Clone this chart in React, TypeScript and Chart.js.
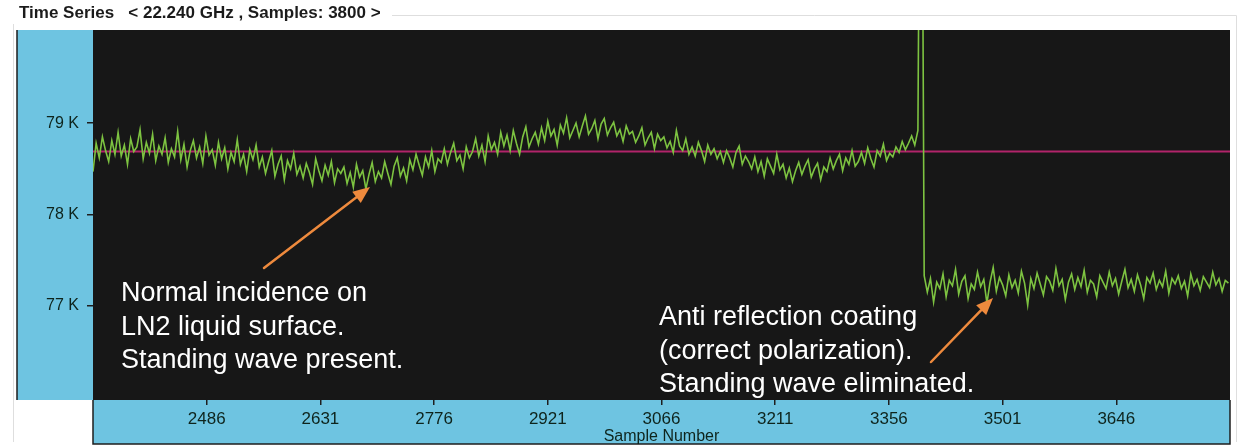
import React, { useEffect, useRef } from "react";
import { Chart, registerables } from "chart.js";

Chart.register(...registerables);

// ---- data ----
const chartTitle = "Time Series   < 22.240 GHz , Samples: 3800 >";
const xAxisTitle = "Sample Number";
const xMin = 2341;
const xMax = 3791;
const sampleStart = 2341;
const sampleStep = 4;
const xTickValues = [2486, 2631, 2776, 2921, 3066, 3211, 3356, 3501, 3646];
const yTickValues = [77, 78, 79];
const yMin = 75.97;
const yMax = 80.02;
const referenceLevel = 78.69;

// brightness temperature (K), one reading every sampleStep samples
const brightnessK = [
  78.47, 78.78, 78.62, 78.85, 78.7, 78.58, 78.81, 78.66, 78.9, 78.64, 78.76, 78.55, 78.83, 78.69, 78.74, 78.93, 78.61, 78.79, 78.67, 78.88, 78.59, 78.75,
  78.66, 78.84, 78.57, 78.72, 78.63, 78.91, 78.6, 78.77, 78.52, 78.7, 78.81, 78.62, 78.74, 78.56, 78.86, 78.65, 78.71, 78.54, 78.79,
  78.61, 78.73, 78.5, 78.68, 78.58, 78.82, 78.55, 78.66, 78.47, 78.71, 78.6, 78.76, 78.52,
  78.63, 78.45, 78.58, 78.7, 78.42, 78.55, 78.64, 78.38, 78.59, 78.5, 78.67, 78.44, 78.53,
  78.4, 78.56, 78.46, 78.33, 78.61, 78.48, 78.37, 78.54, 78.43, 78.58, 78.35, 78.5, 78.45,
  78.52, 78.34, 78.46, 78.3, 78.55, 78.41, 78.48, 78.28, 78.44, 78.57, 78.36, 78.47,
  78.4, 78.58, 78.45, 78.33, 78.53, 78.62, 78.42, 78.51, 78.37, 78.6,
  78.49, 78.66, 78.54, 78.43, 78.63, 78.52, 78.7, 78.47, 78.61,
  78.57, 78.72, 78.55, 78.68, 78.78, 78.59, 78.65, 78.5, 78.74, 78.62,
  78.69, 78.83, 78.64, 78.76, 78.58, 78.86, 78.71, 78.79, 78.66, 78.9,
  78.75, 78.87, 78.7, 78.92, 78.78, 78.66, 78.85, 78.96, 78.74, 78.83, 78.9, 78.77,
  78.95, 78.81, 79.02, 78.86, 78.93, 78.76, 78.98, 78.89, 79.06, 78.84, 78.92, 79.0, 78.85,
  78.97, 79.08, 78.88, 78.94, 79.03, 78.83, 78.99, 79.05, 78.87, 78.95,
  79.01, 78.86, 78.93, 78.8, 78.97, 78.88,
  78.91, 78.79, 78.86, 78.95, 78.76, 78.84, 78.9, 78.72, 78.88, 78.81,
  78.85, 78.73, 78.8, 78.68, 78.92, 78.75, 78.7, 78.83, 78.66,
  78.74, 78.64, 78.79, 78.7, 78.58, 78.76, 78.66, 78.72, 78.61, 78.69,
  78.57, 78.7, 78.62, 78.52, 78.68, 78.75, 78.55, 78.64, 78.58,
  78.5, 78.63, 78.47, 78.58, 78.42, 78.61, 78.53, 78.45, 78.66, 78.49,
  78.55, 78.4, 78.51, 78.36, 78.48, 78.57,
  78.44, 78.53, 78.6, 78.41, 78.5, 78.56, 78.38, 78.52, 78.47, 78.62,
  78.5, 78.59, 78.66, 78.48, 78.62, 78.55, 78.7, 78.53, 78.58,
  78.68, 78.56, 78.73, 78.61, 78.52, 78.7, 78.64, 78.77, 78.59, 78.67,
  78.63, 78.74, 78.68, 78.8, 78.71, 78.78, 78.86, 78.76, 78.92,
  84.5,
  77.33,
  77.15, 77.3, 77.04, 77.26, 77.19, 77.35, 77.1, 77.28, 77.22, 77.4,
  77.13, 77.27, 77.33, 77.08, 77.24, 77.18, 77.37, 77.21, 77.29, 77.03,
  77.26, 77.42, 77.16, 77.31, 77.23, 77.11, 77.34, 77.2, 77.28, 77.14,
  77.38, 77.25, 77.01, 77.3, 77.19, 77.36, 77.24, 77.12, 77.32, 77.27,
  77.17, 77.41, 77.22, 77.29, 77.07, 77.26, 77.35, 77.18, 77.31, 77.21,
  77.39, 77.15, 77.28, 77.24, 77.1, 77.33, 77.26, 77.19, 77.37, 77.22,
  77.3, 77.13, 77.27, 77.4, 77.2, 77.29, 77.16, 77.34, 77.23, 77.08,
  77.31, 77.25, 77.36, 77.18, 77.28, 77.21, 77.38, 77.14, 77.3, 77.24,
  77.33, 77.19, 77.27, 77.11, 77.35, 77.22, 77.29, 77.17, 77.32, 77.26,
  77.2, 77.37, 77.23, 77.3, 77.16, 77.28, 77.25,
];

const noteLeft = ["Normal incidence on", "LN2 liquid surface.", "Standing wave present."];
const noteRight = ["Anti reflection coating", "(correct polarization).", "Standing wave eliminated."];

// ---- styles ----
const FONT = "'Liberation Sans', Arial, sans-serif";
const BLUE = "#6ec4e1";
const PLOT_BG = "#171717";
const GREEN = "#7dc341";
const MAGENTA = "#b1246a";
const ORANGE = "#ee8a3d";
const TEXT_DARK = "#0e241c";

function drawArrow(ctx: CanvasRenderingContext2D, x1: number, y1: number, x2: number, y2: number) {
  const ang = Math.atan2(y2 - y1, x2 - x1);
  const head = 17;
  const hw = 7;
  const bx = x2 - head * Math.cos(ang);
  const by = y2 - head * Math.sin(ang);
  ctx.beginPath();
  ctx.moveTo(x1, y1);
  ctx.lineTo(bx, by);
  ctx.stroke();
  ctx.beginPath();
  ctx.moveTo(x2, y2);
  ctx.lineTo(bx + hw * Math.sin(ang), by - hw * Math.cos(ang));
  ctx.lineTo(bx - hw * Math.sin(ang), by + hw * Math.cos(ang));
  ctx.closePath();
  ctx.fill();
}

const panelPlugin = {
  id: "panels",
  beforeDraw(chart: any) {
    const { ctx, chartArea: a, width, height } = chart;
    ctx.save();
    ctx.fillStyle = "#ffffff";
    ctx.fillRect(0, 0, width, height);
    // faint frame
    ctx.strokeStyle = "#dedede";
    ctx.lineWidth = 1;
    ctx.beginPath();
    ctx.moveTo(392, 15.5);
    ctx.lineTo(1236.5, 15.5);
    ctx.lineTo(1236.5, 442);
    ctx.moveTo(13.5, 24);
    ctx.lineTo(13.5, 442);
    ctx.stroke();
    // left blue panel
    ctx.fillStyle = BLUE;
    ctx.fillRect(17, a.top, a.left - 17, a.bottom - a.top);
    // bottom blue band
    ctx.fillRect(a.left, a.bottom, a.right - a.left, 44);
    ctx.strokeStyle = "#1e1e1e";
    ctx.lineWidth = 1.5;
    ctx.beginPath();
    ctx.moveTo(17, a.top);
    ctx.lineTo(17, a.bottom);
    ctx.moveTo(a.left, a.bottom);
    ctx.lineTo(a.left, a.bottom + 44);
    ctx.lineTo(a.right, a.bottom + 44);
    ctx.lineTo(a.right, a.bottom);
    ctx.stroke();
    // plot background
    ctx.fillStyle = PLOT_BG;
    ctx.fillRect(a.left, a.top, a.right - a.left, a.bottom - a.top);
    // title
    ctx.fillStyle = "#1b1b1b";
    ctx.font = `bold 17px ${FONT}`;
    ctx.textBaseline = "middle";
    ctx.textAlign = "left";
    ctx.fillText(chartTitle, 19, 13);
    ctx.restore();
  },
  afterDraw(chart: any) {
    const { ctx } = chart;
    ctx.save();
    ctx.fillStyle = "#ffffff";
    ctx.font = `27px ${FONT}`;
    ctx.textBaseline = "middle";
    ctx.textAlign = "left";
    noteLeft.forEach((t, i) => ctx.fillText(t, 121, 294 + i * 33.5));
    noteRight.forEach((t, i) => ctx.fillText(t, 659, 318 + i * 33.5));
    ctx.strokeStyle = ORANGE;
    ctx.fillStyle = ORANGE;
    ctx.lineWidth = 2.5;
    ctx.lineCap = "round";
    drawArrow(ctx, 264, 268, 370, 187);
    drawArrow(ctx, 931, 362, 993, 298);
    ctx.restore();
  },
};

export default function App() {
  const ref = useRef<HTMLCanvasElement>(null);
  useEffect(() => {
    const points = brightnessK.map((v, i) => ({ x: sampleStart + i * sampleStep, y: v }));
    const chart = new Chart(ref.current as HTMLCanvasElement, {
      type: "line",
      data: {
        datasets: [
          {
            label: "Brightness",
            data: points,
            borderColor: GREEN,
            borderWidth: 1.6,
            pointRadius: 0,
            tension: 0,
          },
          {
            label: "Reference",
            data: [
              { x: xMin, y: referenceLevel },
              { x: xMax, y: referenceLevel },
            ],
            borderColor: MAGENTA,
            borderWidth: 2,
            pointRadius: 0,
          },
        ],
      },
      options: {
        responsive: false,
        animation: false,
        events: [],
        layout: { padding: { left: 17, right: 11, top: 30, bottom: 2 } },
        plugins: {
          legend: { display: false },
          tooltip: { enabled: false },
          title: { display: false },
        },
        scales: {
          x: {
            type: "linear",
            min: xMin,
            max: xMax,
            afterBuildTicks: (s: any) => {
              s.ticks = xTickValues.map((v) => ({ value: v }));
            },
            afterFit: (s: any) => {
              s.height = 44;
            },
            grid: {
              drawOnChartArea: false,
              drawTicks: true,
              tickLength: 5,
              color: "#1e1e1e",
              lineWidth: 1.5,
            },
            border: { display: false },
            ticks: {
              autoSkip: false,
              maxRotation: 0,
              padding: 4,
              color: TEXT_DARK,
              font: { family: FONT, size: 17 },
              callback: (v: any) => String(v),
            },
            title: {
              display: true,
              text: xAxisTitle,
              color: TEXT_DARK,
              font: { family: FONT, size: 16 },
              padding: { top: 0, bottom: -2 },
            },
          },
          y: {
            type: "linear",
            min: yMin,
            max: yMax,
            afterBuildTicks: (s: any) => {
              s.ticks = yTickValues.map((v) => ({ value: v }));
            },
            afterFit: (s: any) => {
              s.width = 76;
            },
            grid: {
              drawOnChartArea: false,
              drawTicks: true,
              tickLength: 6,
              color: "#1e1e1e",
              lineWidth: 1.5,
            },
            border: { display: false },
            ticks: {
              padding: 8,
              color: TEXT_DARK,
              font: { family: FONT, size: 16 },
              callback: (v: any) => `${v} K`,
            },
          },
        },
      },
      plugins: [panelPlugin],
    } as any);
    return () => chart.destroy();
  }, []);
  return (
    <div style={{ position: "fixed", left: 0, top: 0, width: 1241, height: 446, background: "#fff" }}>
      <canvas ref={ref} width={1241} height={446} style={{ display: "block", width: 1241, height: 446 }} />
    </div>
  );
}
